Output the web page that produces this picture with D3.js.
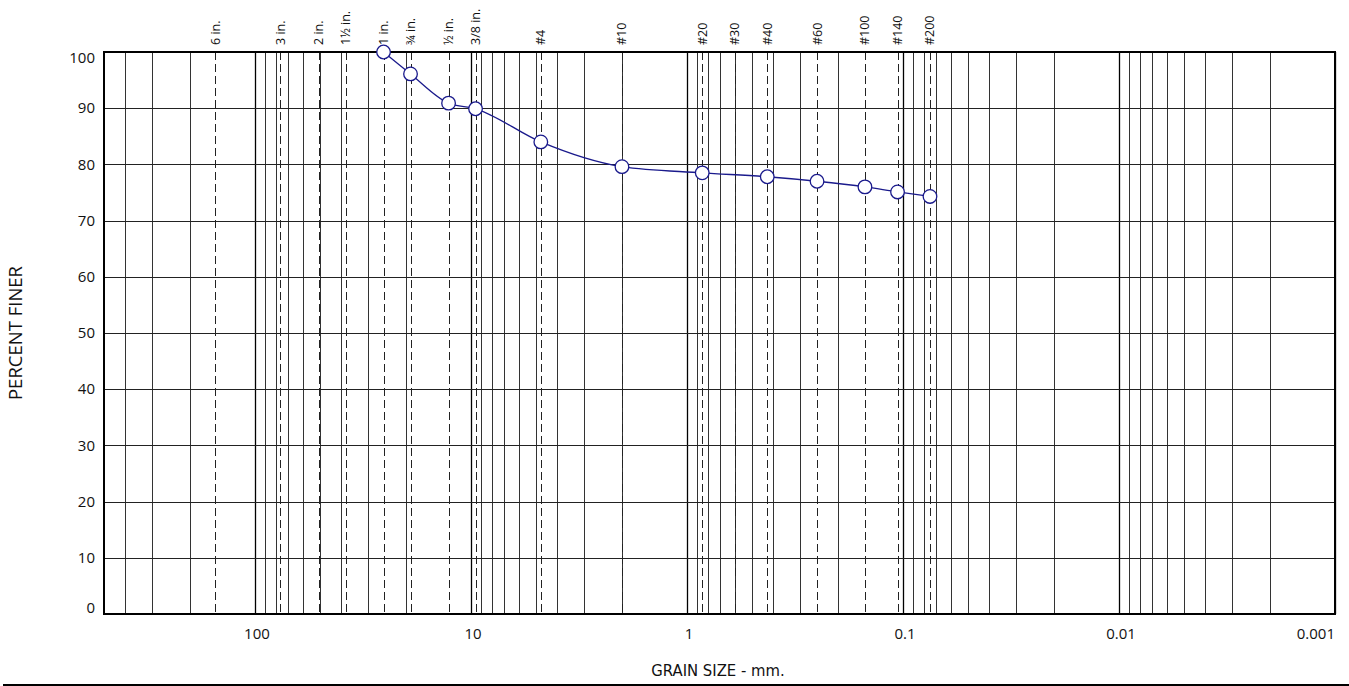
<!DOCTYPE html>
<html>
<head>
<meta charset="utf-8">
<script src="https://cdnjs.cloudflare.com/ajax/libs/d3/7.8.5/d3.min.js"></script>
<style>
  body { margin: 0; background: #fff; }
  text { font-family: "Open Sans", "DejaVu Sans", sans-serif; fill: #111; }
</style>
</head>
<body>
<svg id="chart" width="1349" height="686"></svg>
<script>
// sieve openings (mm) and their labels along the top
let sieveSizes = [152.4, 76.2, 50.8, 38.1, 25.4, 19.05, 12.7, 9.525, 4.75, 2.0,
    0.85, 0.6, 0.425, 0.25, 0.15, 0.106, 0.075];
let sieveLabels = ["6 in.", "3 in.", "2 in.", "1\u00bd in.", "1 in.", "\u00be in.", "\u00bd in.", "3/8 in.",
    "#4", "#10", "#20", "#30", "#40", "#60", "#100", "#140", "#200"];

// test results: grain size (mm) vs percent finer
let grainSize = [25.4, 19.05, 12.7, 9.525, 4.75, 2.0, 0.85, 0.425, 0.25, 0.15, 0.106, 0.075];
let percentFiner = [100, 96.1, 90.9, 89.9, 84.0, 79.6, 78.5, 77.8, 77.0, 76.0, 75.1, 74.3];

let xTicks = [100, 10, 1, 0.1, 0.01, 0.001];
let xTickLabels = ["100", "10", "1", "0.1", "0.01", "0.001"];
let yTicks = [0, 10, 20, 30, 40, 50, 60, 70, 80, 90, 100];

// plot box
let plotLeft = 104, plotRight = 1335, plotTop = 52, plotBottom = 614;

let svg = d3.select("#chart");

let x = d3.scaleLog()
    .domain([500, 0.001])
    .range([plotLeft, plotRight]);

let y = d3.scaleLinear()
    .domain([0, 100])
    .range([plotBottom, plotTop]);

// log grid: 1..9 in each decade
let gridValues = [];
for (let e = -3; e <= 2; e++) {
    for (let m = 1; m <= 9; m++) {
        let v = m * Math.pow(10, e);
        if (v <= 500 && v >= 0.001) gridValues.push(v);
    }
}

let grid = svg.append("g");

grid.selectAll(null)
    .data(gridValues)
    .enter()
    .append("line")
    .attr("x1", d => Math.round(x(d)) + 0.5)
    .attr("x2", d => Math.round(x(d)) + 0.5)
    .attr("y1", plotTop)
    .attr("y2", plotBottom)
    .attr("stroke", d => xTicks.includes(d) ? "#000" : "#333")
    .attr("stroke-width", d => xTicks.includes(d) ? 1.3 : 1);

grid.selectAll(null)
    .data(yTicks)
    .enter()
    .append("line")
    .attr("x1", plotLeft)
    .attr("x2", plotRight)
    .attr("y1", d => Math.round(y(d)) + 0.5)
    .attr("y2", d => Math.round(y(d)) + 0.5)
    .attr("stroke", "#222")
    .attr("stroke-width", 1);

// dashed sieve lines
grid.selectAll(null)
    .data(sieveSizes)
    .enter()
    .append("line")
    .attr("x1", d => Math.round(x(d)) + 0.5)
    .attr("x2", d => Math.round(x(d)) + 0.5)
    .attr("y1", plotTop)
    .attr("y2", plotBottom)
    .attr("stroke", "#222")
    .attr("stroke-width", 1)
    .attr("stroke-dasharray", "8,4");

// sieve labels
svg.append("g")
    .selectAll(null)
    .data(sieveSizes)
    .enter()
    .append("text")
    .attr("transform", d => "translate(" + (x(d) + 4.5) + "," + (plotTop - 7) + ") rotate(-90)")
    .attr("font-size", 12.5)
    .text((d, i) => sieveLabels[i]);

// frame
svg.append("rect")
    .attr("x", plotLeft)
    .attr("y", plotTop)
    .attr("width", plotRight - plotLeft)
    .attr("height", plotBottom - plotTop)
    .attr("fill", "none")
    .attr("stroke", "#000")
    .attr("stroke-width", 2);

// y tick labels
svg.append("g")
    .selectAll(null)
    .data(yTicks)
    .enter()
    .append("text")
    .attr("x", plotLeft - 9)
    .attr("y", d => y(d) + (d === 100 ? 6 : d === 0 ? -6 : 0))
    .attr("dy", "0.35em")
    .attr("text-anchor", "end")
    .attr("font-size", 15)
    .text(d => d);

// x tick labels
svg.append("g")
    .selectAll(null)
    .data(xTicks)
    .enter()
    .append("text")
    .attr("x", (d, i) => i === xTicks.length - 1 ? x(d) : x(d) + 2)
    .attr("y", plotBottom + 25)
    .attr("text-anchor", (d, i) => i === xTicks.length - 1 ? "end" : "middle")
    .attr("font-size", 15)
    .text((d, i) => xTickLabels[i]);

// axis titles
svg.append("text")
    .attr("transform", "translate(22," + ((plotTop + plotBottom) / 2) + ") rotate(-90)")
    .attr("text-anchor", "middle")
    .attr("font-size", 18.5)
    .text("PERCENT FINER");

svg.append("text")
    .attr("x", 718)
    .attr("y", 676)
    .attr("text-anchor", "middle")
    .attr("font-size", 16.5)
    .style("font-family", "'DejaVu Sans Condensed', sans-serif")
    .text("GRAIN SIZE - mm.");

// rule under the chart
svg.append("line")
    .attr("x1", 3)
    .attr("x2", 1349)
    .attr("y1", 685)
    .attr("y2", 685)
    .attr("stroke", "#000")
    .attr("stroke-width", 2);

// gradation curve
let points = grainSize.map((g, i) => [x(g), y(percentFiner[i])]);

svg.append("path")
    .attr("d", d3.line().curve(d3.curveMonotoneX)(points))
    .attr("fill", "none")
    .attr("stroke", "#1a1a8c")
    .attr("stroke-width", 1.3);

svg.append("g")
    .selectAll(null)
    .data(points)
    .enter()
    .append("circle")
    .attr("cx", d => d[0])
    .attr("cy", d => d[1])
    .attr("r", 6.8)
    .attr("fill", "#fff")
    .attr("stroke", "#1a1a8c")
    .attr("stroke-width", 1.3);
</script>
</body>
</html>
